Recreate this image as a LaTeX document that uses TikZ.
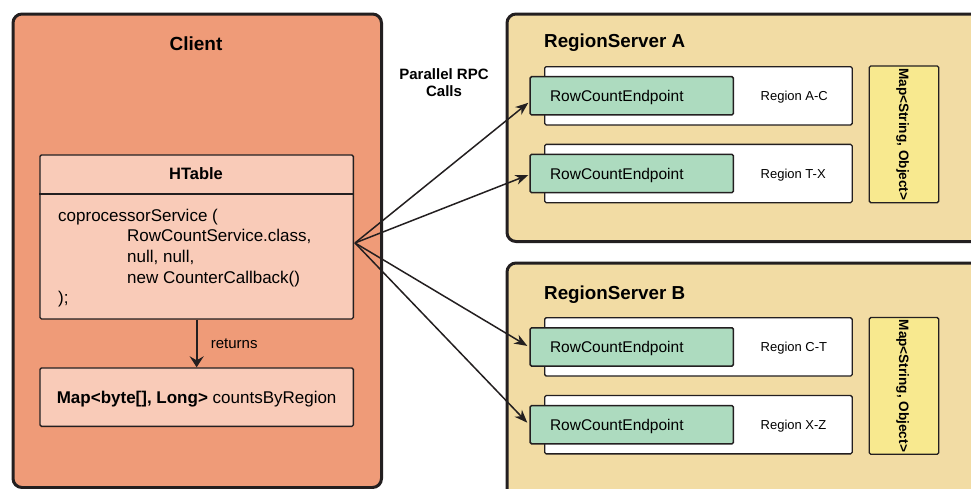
\documentclass[tikz,border=0pt]{standalone}
\usepackage{fontspec}
\setmainfont{Liberation Sans}
\usetikzlibrary{arrows.meta,calc}
\definecolor{ink}{HTML}{231F20}
\definecolor{clientc}{HTML}{EF9B78}
\definecolor{htablec}{HTML}{F9CBB8}
\definecolor{serverc}{HTML}{F2DCA4}
\definecolor{endptc}{HTML}{ADDBBF}
\definecolor{mapc}{HTML}{F8E98F}
\begin{document}
\begin{tikzpicture}[x=1pt,y=-1pt,
  bigbox/.style={draw=ink, line width=3pt, rounded corners=9pt, inner sep=0pt},
  clientbox/.style={bigbox, fill=clientc},
  serverbox/.style={bigbox, fill=serverc},
  thinbox/.style={draw=ink, line width=1.3pt, rounded corners=1.5pt, inner sep=0pt},
  tablebox/.style={thinbox, fill=htablec},
  regbox/.style={thinbox, fill=white},
  endpt/.style={thinbox, line width=1.5pt, fill=endptc, minimum height=38.3pt,
    text width=163.4pt, inner xsep=20pt, align=left,
    font=\fontsize{15.5}{18}\selectfont, text height=11.1pt, text depth=0pt},
  mapbox/.style={thinbox, fill=mapc, rotate=-90, minimum width=136.7pt, minimum height=69.4pt,
    font=\bfseries\fontsize{13.6}{16}\selectfont, text height=9.7pt, text depth=0pt},
  regtxt/.style={inner sep=0pt, font=\fontsize{13}{16}\selectfont, text height=9.3pt, text depth=0pt},
  title/.style={inner sep=0pt, anchor=base},
  rpc/.style={draw=ink, line width=1.5pt, -{Stealth[length=13pt,width=10pt,inset=4pt]}},
  ret/.style={draw=ink, line width=2pt, -{Stealth[length=11pt,width=14pt,inset=4pt]}}
]
\clip (0,0) rectangle (971,488);

% ---------- client side ----------
\node[clientbox, anchor=north west, minimum width=368.5pt, minimum height=473.5pt] (client) at (11.5,12.5) {};
\node[title, font=\bfseries\fontsize{19}{23}\selectfont] (clienttitle) at (196,50) {Client};

\node[tablebox, anchor=north west, minimum width=313.4pt, minimum height=164pt] (ht) at (39.3,154.3) {};
\draw[ink, line width=1.3pt] ($(ht.north west)+(0,39.7)$) -- ($(ht.north east)+(0,39.7)$);
\node[title, font=\bfseries\fontsize{16.5}{20}\selectfont] (httitle) at (196,179) {HTable};
\node[anchor=north west, inner sep=0pt, align=left, font=\fontsize{17}{20.7}\selectfont] (code) at (58,208.6)
  {coprocessorService (\\
   \hspace*{69pt}RowCountService.class,\\
   \hspace*{69pt}null, null,\\
   \hspace*{69pt}new CounterCallback()\\
   );};

\node[tablebox, anchor=north west, minimum width=313.4pt, minimum height=58.4pt,
  font=\fontsize{17}{20}\selectfont, text height=12.2pt, text depth=0pt] (counts) at (39.3,367.3)
  {\textbf{Map<byte[], Long>} countsByRegion};

\draw[ret] (ht.south) -- (counts.north);
\node[anchor=base west, inner sep=0pt, font=\fontsize{15}{18}\selectfont] (returns) at (210.7,348.3) {returns};

% ---------- RPC label ----------
\node[anchor=north, inner sep=0pt, align=center, font=\bfseries\fontsize{15}{17.4}\selectfont] (rpclabel) at (444,68.4)
  {Parallel RPC\\Calls};

% ---------- region server A ----------
\node[serverbox, anchor=north west, minimum width=600pt, minimum height=227.5pt] (rsA) at (505.5,12.5) {};
\node[title, anchor=base west, font=\bfseries\fontsize{18.8}{22}\selectfont] (rsAtitle) at (544,47.7) {RegionServer A};

\node[regbox, anchor=west, minimum width=307.5pt, minimum height=58.3pt] (r1) at (544,95.8) {};
\node[endpt, anchor=west] (g1) at (529.3,95.8) {RowCountEndpoint};
\node[regtxt, anchor=west] (t1) at (760.5,95.8) {Region A-C};

\node[regbox, anchor=west, minimum width=307.5pt, minimum height=58.3pt] (r2) at (544,173.5) {};
\node[endpt, anchor=west] (g2) at (529.3,173.5) {RowCountEndpoint};
\node[regtxt, anchor=west] (t2) at (760.5,173.5) {Region T-X};

\node[mapbox] (mA) at (904,134.3) {Map<String, Object>};

% ---------- region server B ----------
\node[serverbox, anchor=north west, minimum width=600pt, minimum height=300pt] (rsB) at (505.5,261.5) {};
\node[title, anchor=base west, font=\bfseries\fontsize{18.8}{22}\selectfont] (rsBtitle) at (544,299.3) {RegionServer B};

\node[regbox, anchor=west, minimum width=307.5pt, minimum height=58.3pt] (r3) at (544,346.9) {};
\node[endpt, anchor=west] (g3) at (529.3,346.9) {RowCountEndpoint};
\node[regtxt, anchor=west] (t3) at (760.5,346.9) {Region C-T};

\node[regbox, anchor=west, minimum width=307.5pt, minimum height=58.3pt] (r4) at (544,424.7) {};
\node[endpt, anchor=west] (g4) at (529.3,424.7) {RowCountEndpoint};
\node[regtxt, anchor=west] (t4) at (760.5,424.7) {Region X-Z};

\node[mapbox] (mB) at (904,385.9) {Map<String, Object>};

% ---------- parallel calls ----------
\coordinate (src) at ($(ht.east)+(1,6)$);
\draw[rpc] (src) -- ($(g1.west)+(-1,7)$);
\draw[rpc] (src) -- ($(g2.west)+(-1,1.5)$);
\draw[rpc] (src) -- ($(g3.west)+(-2,-1)$);
\draw[rpc] (src) -- ($(g4.west)+(-2,-2)$);
\end{tikzpicture}
\end{document}
